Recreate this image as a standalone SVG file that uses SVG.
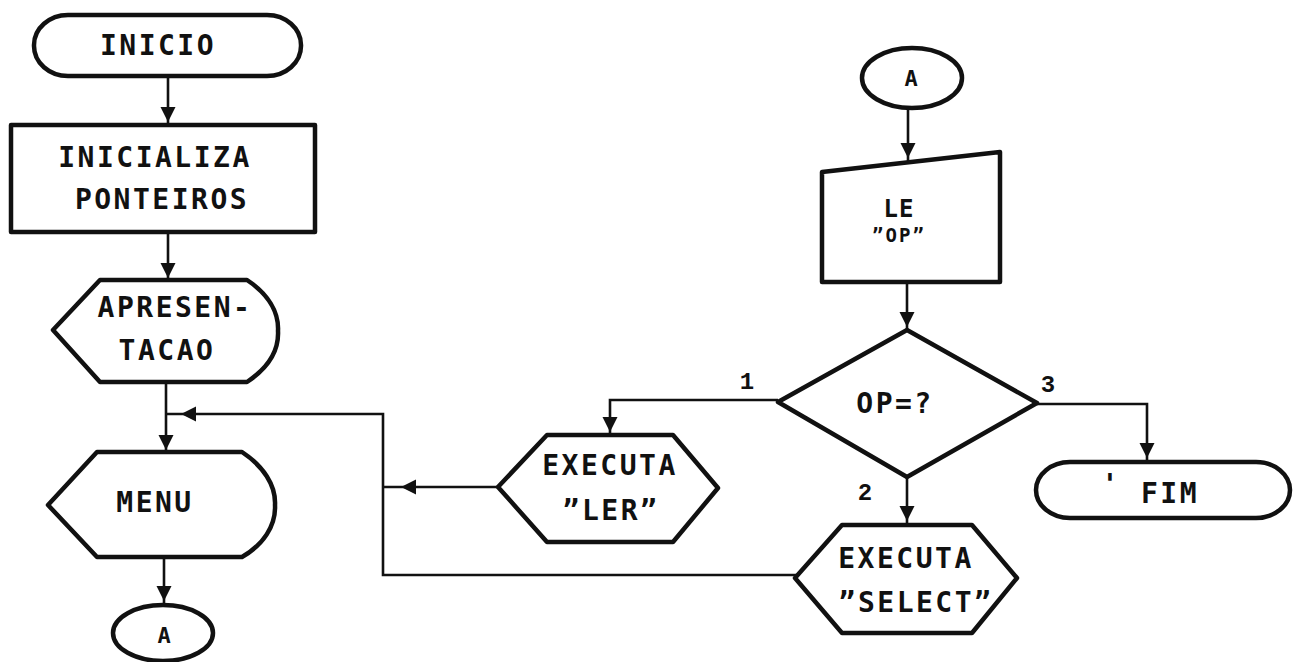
<svg xmlns="http://www.w3.org/2000/svg" width="1294" height="662" viewBox="0 0 1294 662">
  <style>
    .shape { fill: #fff; stroke: #111; stroke-width: 4.5; stroke-linejoin: round; }
    .wire { fill: none; stroke: #111; stroke-width: 2.6; }
    .lbl { font-family: "DejaVu Sans Mono", "Liberation Mono", monospace; font-weight: bold; font-size: 28px; letter-spacing: 2.5px; fill: #111; text-anchor: middle; }
    .small { font-size: 22px; letter-spacing: 0; }
    .num { font-family: "Liberation Mono", "DejaVu Sans Mono", monospace; font-weight: bold; font-size: 24px; fill: #111; text-anchor: middle; }
  </style>
  <defs>
    <!-- arrowhead pointing +x with its tip at the origin -->
    <polygon id="head" points="0,0 -15,-7.5 -15,7.5" fill="#111"/>
  </defs>
  <rect width="1294" height="662" fill="#fff"/>

  <g id="connectors">
    <path class="wire" d="M168,77 V124"/>
    <path class="wire" d="M168,232 V280"/>
    <path class="wire" d="M166,382 V452"/>
    <path class="wire" d="M164,557 V604"/>
    <path class="wire" d="M796,575 H383 V414 H166"/>
    <path class="wire" d="M498,487 H383"/>
    <path class="wire" d="M908,108 V162"/>
    <path class="wire" d="M907,282 V330"/>
    <path class="wire" d="M778,400 H610 V435"/>
    <path class="wire" d="M907,477 V525"/>
    <path class="wire" d="M1037,404 H1147 V462"/>
    <use href="#head" transform="translate(168,122) rotate(90)"/>
    <use href="#head" transform="translate(168,278) rotate(90)"/>
    <use href="#head" transform="translate(166,450) rotate(90)"/>
    <use href="#head" transform="translate(164,601) rotate(90)"/>
    <use href="#head" transform="translate(181,414) rotate(180)"/>
    <use href="#head" transform="translate(401,487) rotate(180)"/>
    <use href="#head" transform="translate(908,158) rotate(90)"/>
    <use href="#head" transform="translate(907,327) rotate(90)"/>
    <use href="#head" transform="translate(610,432) rotate(90)"/>
    <use href="#head" transform="translate(907,521) rotate(90)"/>
    <use href="#head" transform="translate(1147,458) rotate(90)"/>
    <text class="num" x="747" y="389">1</text>
    <text class="num" x="865" y="500">2</text>
    <text class="num" x="1048" y="392">3</text>
  </g>

  <g id="inicio">
    <rect class="shape" x="34" y="15" width="267" height="61" rx="34" ry="30"/>
    <text class="lbl" x="158" y="55">INICIO</text>
  </g>

  <g id="inicializa">
    <rect class="shape" x="11" y="125" width="304" height="107"/>
    <text class="lbl" x="155" y="167">INICIALIZA</text>
    <text class="lbl" x="162" y="209">PONTEIROS</text>
  </g>

  <g id="apresentacao">
    <path class="shape" d="M100,280 H247 C268,294 279,312 278,331 C279,351 268,368 247,382 H100 L53,330 Z"/>
    <text class="lbl" x="175" y="317">APRESEN-</text>
    <text class="lbl" x="167" y="360">TACAO</text>
  </g>

  <g id="menu">
    <path class="shape" d="M97,452 H242 C263,466 276,485 275,505 C276,526 263,545 242,557 H97 L48,505 Z"/>
    <text class="lbl" x="155" y="512">MENU</text>
  </g>

  <g id="conector-a-saida">
    <ellipse class="shape" cx="163" cy="633" rx="50" ry="28"/>
    <text class="lbl small" x="164" y="643">A</text>
  </g>

  <g id="conector-a-entrada">
    <ellipse class="shape" cx="912" cy="78" rx="50" ry="30"/>
    <text class="lbl small" x="911" y="86">A</text>
  </g>

  <g id="le-op">
    <path class="shape" d="M822,172 L1000,152 V282 H822 Z"/>
    <text class="lbl" x="899" y="217" style="font-size:24px;letter-spacing:1px">LE</text>
    <text class="lbl" x="899" y="242" style="font-size:19px;letter-spacing:2px">”OP”</text>
  </g>

  <g id="decisao-op">
    <path class="shape" d="M907,330 L1037,403 L907,477 L778,402 Z"/>
    <text class="lbl" x="895" y="413">OP=?</text>
  </g>

  <g id="executa-ler">
    <path class="shape" d="M547,435 H673 L718,488 L673,542 H547 L498,487 Z"/>
    <text class="lbl" x="610" y="475">EXECUTA</text>
    <text class="lbl" x="611" y="520">”LER”</text>
  </g>

  <g id="executa-select">
    <path class="shape" d="M842,525 H972 L1017,578 L972,633 H842 L795,578 Z"/>
    <text class="lbl" x="906" y="568">EXECUTA</text>
    <text class="lbl" x="916" y="612">”SELECT”</text>
  </g>

  <g id="fim">
    <rect class="shape" x="1036" y="462" width="254" height="56" rx="34" ry="28"/>
    <text class="lbl" x="1110" y="494" style="font-size:28px;letter-spacing:0">'</text>
    <text class="lbl" x="1170" y="503">FIM</text>
  </g>
</svg>
